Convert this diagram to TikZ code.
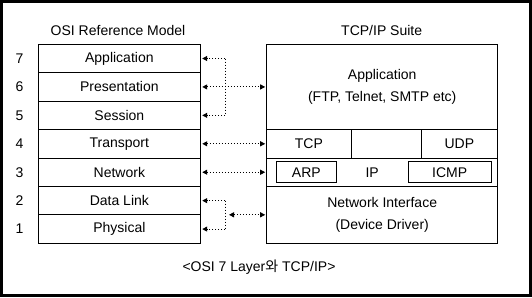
\documentclass[tikz,border=0pt]{standalone}
\usepackage{fontspec}
\setmainfont{Liberation Sans}
\newfontfamily\kofont{Noto Sans CJK KR}
\usetikzlibrary{arrows.meta,positioning,calc}

\begin{document}
\begin{tikzpicture}[
  x=1pt, y=-1pt,
  font=\fontsize{14pt}{22pt}\selectfont,
  layer/.style={draw, line width=1pt, outer sep=0pt, inner sep=0pt, minimum width=162.7pt, minimum height=28.43pt, align=center},
  suite/.style={draw, line width=1pt, outer sep=0pt, inner sep=0pt, align=center},
  proto/.style={draw, line width=1pt, outer sep=0pt, inner sep=0pt, minimum height=21pt},
  num/.style={inner sep=0pt},
  link/.style={line width=1pt, dash pattern=on 1.5pt off 1.5pt},
  arr/.style={link, shorten >=1.5pt, -{Triangle[length=5pt,width=5pt]}},
  dblarr/.style={link, shorten >=1.5pt, shorten <=1.5pt, {Triangle[length=5pt,width=5pt]}-{Triangle[length=5pt,width=5pt]}}
]
  \useasboundingbox (0,0) rectangle (532,297);
  \draw[line width=3pt] (1.5,1.5) rectangle (530.5,295.5);

  % OSI reference model
  \node[layer] (app) at (119.35,58.5) {Application};
  \node[layer, below=0pt of app] (pre) {Presentation};
  \node[layer, below=0pt of pre] (ses) {Session};
  \node[layer, below=0pt of ses] (tra) {Transport};
  \node[layer, below=0pt of tra] (net) {Network};
  \node[layer, below=0pt of net] (dl) {Data Link};
  \node[layer, below=0pt of dl] (phy) {Physical};
  \node (osititle) at ([yshift=13.5pt,xshift=-1.3pt]app.north) {OSI Reference Model};

  \foreach \n/\k in {app/7, pre/6, ses/5, tra/4, net/3, dl/2, phy/1}
    \node[num] (num\k) at ([xshift=-18.5pt]\n.west) {\k};

  % TCP/IP suite
  \node[suite, minimum width=231pt, minimum height=85pt] (tapp) at (382.2,86.8) {Application\\(FTP, Telnet, SMTP etc)};
  \node[suite, minimum width=84.3pt, minimum height=29pt, below=0pt of tapp.south west, anchor=north west] (tcp) {TCP};
  \node[suite, minimum width=70pt, minimum height=29pt, right=0pt of tcp] (mid) {};
  \node[suite, minimum width=76.7pt, minimum height=29pt, right=0pt of mid] (udp) {UDP};
  \node[suite, minimum width=231pt, minimum height=28pt, below=0pt of tcp.south west, anchor=north west] (ipl) {};
  \node[suite, minimum width=231pt, minimum height=57pt, below=0pt of ipl] (ni) {Network Interface\\(Device Driver)};
  \node[proto, minimum width=59.3pt, anchor=west] (arp) at ([xshift=10pt]ipl.west) {ARP};
  \node[proto, minimum width=82.7pt, anchor=east] (icmp) at ([xshift=-6.7pt]ipl.east) {ICMP};
  \node (ip) at ($(arp.east)!0.5!(icmp.west)$) {IP};
  \node (tcptitle) at ([yshift=13.5pt,xshift=-0.5pt]tapp.north) {TCP/IP Suite};

  % mapping
  \coordinate (upjoin) at ($(pre.east)+(24.3,0)$);
  \draw[link] (upjoin |- app.east) -- (upjoin |- ses.east);
  \draw[arr] (upjoin |- app.east) -- (app.east);
  \draw[arr] (upjoin |- ses.east) -- (ses.east);
  \draw[dblarr] (pre.east) -- (pre.east -| tapp.west);
  \draw[dblarr] (tra.east) -- (tra.east -| tcp.west);
  \draw[dblarr] (net.east) -- (net.east -| ipl.west);
  \coordinate (lowjoin) at ($(ni.west -| dl.east)+(24.3,0)$);
  \draw[link] (lowjoin |- dl.east) -- (lowjoin |- phy.east);
  \draw[arr] (lowjoin |- dl.east) -- (dl.east);
  \draw[arr] (lowjoin |- phy.east) -- (phy.east);
  \draw[dblarr, shorten <=4pt] (lowjoin) -- (ni.west);

  \node (caption) at (259,267) {<OSI 7 Layer{\kofont 와} TCP/IP>};
\end{tikzpicture}
\end{document}
